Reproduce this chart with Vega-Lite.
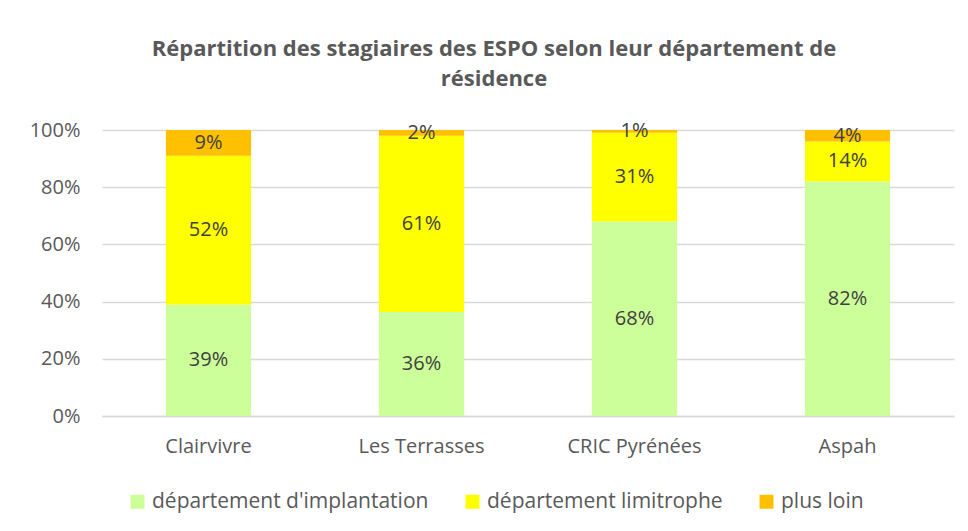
{
  "$schema": "https://vega.github.io/schema/vega-lite/v6.json",
  "width": 852,
  "height": 286,
  "autosize": "none",
  "padding": {"left": 102, "top": 130, "right": 14, "bottom": 115},
  "background": "white",
  "title": {
    "text": ["Répartition des stagiaires des ESPO selon leur département de", "résidence"],
    "anchor": "middle",
    "frame": "group",
    "dx": -34,
    "offset": 29,
    "fontSize": 22,
    "fontWeight": "bold",
    "color": "#595959",
    "font": "Open Sans, sans-serif",
    "lineHeight": 30
  },
  "data": {
    "values": [
      {"site": "Clairvivre", "cat": "département d'implantation", "ord": 1, "pct": 39},
      {"site": "Clairvivre", "cat": "département limitrophe", "ord": 2, "pct": 52},
      {"site": "Clairvivre", "cat": "plus loin", "ord": 3, "pct": 9},
      {"site": "Les Terrasses", "cat": "département d'implantation", "ord": 1, "pct": 36},
      {"site": "Les Terrasses", "cat": "département limitrophe", "ord": 2, "pct": 61},
      {"site": "Les Terrasses", "cat": "plus loin", "ord": 3, "pct": 2},
      {"site": "CRIC Pyrénées", "cat": "département d'implantation", "ord": 1, "pct": 68},
      {"site": "CRIC Pyrénées", "cat": "département limitrophe", "ord": 2, "pct": 31},
      {"site": "CRIC Pyrénées", "cat": "plus loin", "ord": 3, "pct": 1},
      {"site": "Aspah", "cat": "département d'implantation", "ord": 1, "pct": 82},
      {"site": "Aspah", "cat": "département limitrophe", "ord": 2, "pct": 14},
      {"site": "Aspah", "cat": "plus loin", "ord": 3, "pct": 4}
    ]
  },
  "transform": [
    {"stack": "pct", "groupby": ["site"], "sort": [{"field": "ord", "order": "ascending"}], "offset": "normalize", "as": ["y0", "y1"]},
    {"calculate": "(datum.y0 + datum.y1) / 2", "as": "ymid"},
    {"calculate": "datum.pct + '%'", "as": "label"}
  ],
  "encoding": {
    "x": {
      "field": "site",
      "type": "nominal",
      "sort": ["Clairvivre", "Les Terrasses", "CRIC Pyrénées", "Aspah"],
      "scale": {"paddingInner": 0.6, "paddingOuter": 0.3},
      "axis": {
        "title": null,
        "labelAngle": 0,
        "labelFontSize": 20,
        "labelColor": "#595959",
        "labelFont": "Open Sans, sans-serif",
        "labelPadding": 20,
        "ticks": false,
        "domainColor": "#d9d9d9",
        "domainWidth": 1.5
      }
    }
  },
  "layer": [
    {
      "mark": {"type": "bar"},
      "encoding": {
        "y": {
          "field": "y0",
          "type": "quantitative",
          "scale": {"domain": [0, 1]},
          "axis": {
            "title": null,
            "format": ".0%",
            "values": [0, 0.2, 0.4, 0.6, 0.8, 1],
            "labelOverlap": false,
            "labelFlush": false,
            "labelFontSize": 20,
            "labelColor": "#595959",
            "labelFont": "Open Sans, sans-serif",
            "labelPadding": 22,
            "ticks": false,
            "domain": false,
            "gridColor": "#d9d9d9",
            "gridWidth": 1.5
          }
        },
        "y2": {"field": "y1"},
        "color": {
          "field": "cat",
          "type": "nominal",
          "scale": {
            "domain": ["département d'implantation", "département limitrophe", "plus loin"],
            "range": ["#CCFF99", "#FFFF00", "#FFC000"]
          },
          "legend": {
            "title": null,
            "orient": "none",
            "direction": "horizontal",
            "legendX": 25,
            "legendY": 361,
            "symbolType": "square",
            "symbolSize": 196,
            "symbolStrokeWidth": 0,
            "labelOffset": 4,
            "labelFontSize": 21,
            "labelColor": "#595959",
            "labelFont": "Open Sans, sans-serif",
            "columnPadding": 33,
            "labelLimit": 400
          }
        }
      }
    },
    {
      "mark": {"type": "text", "fontSize": 20, "color": "#404040", "font": "Open Sans, sans-serif", "baseline": "middle"},
      "encoding": {
        "y": {"field": "ymid", "type": "quantitative"},
        "text": {"field": "label"}
      }
    }
  ],
  "config": {"view": {"stroke": null}}
}
